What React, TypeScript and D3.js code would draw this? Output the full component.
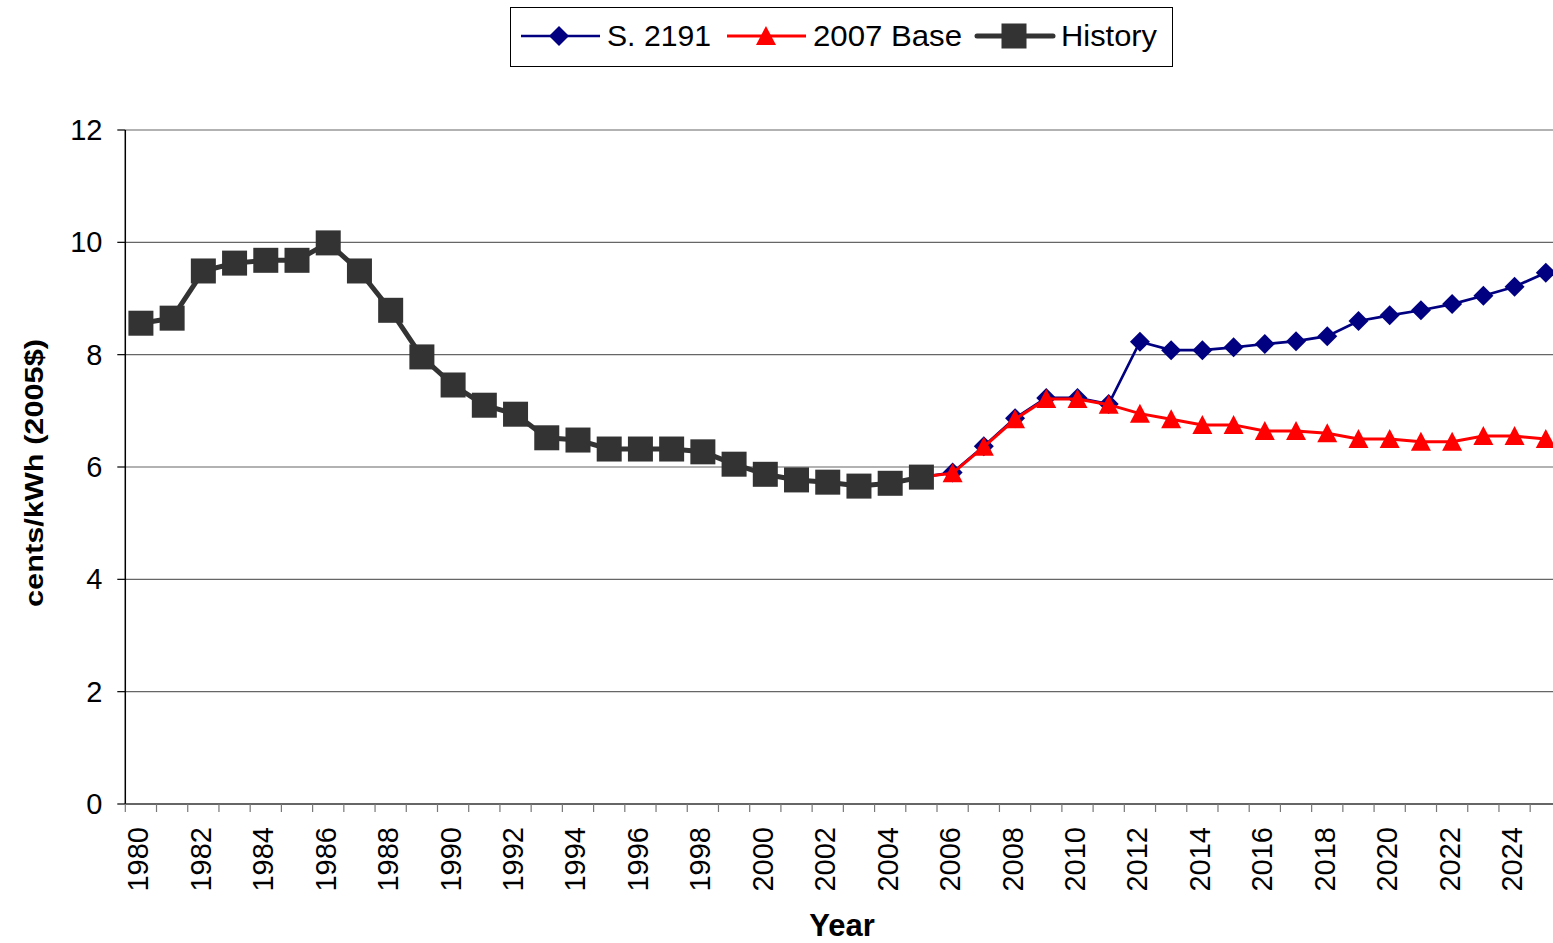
import React from 'react'
import * as d3 from 'd3'

// categories (one band per year)
const years = [
  1980, 1981, 1982, 1983, 1984, 1985, 1986, 1987, 1988, 1989,
  1990, 1991, 1992, 1993, 1994, 1995, 1996, 1997, 1998, 1999,
  2000, 2001, 2002, 2003, 2004, 2005, 2006, 2007, 2008, 2009,
  2010, 2011, 2012, 2013, 2014, 2015, 2016, 2017, 2018, 2019,
  2020, 2021, 2022, 2023, 2024, 2025,
]

const historyYears = years.slice(0, 26) // 1980-2005
const historyValues = [
  8.56, 8.65, 9.49, 9.63, 9.68, 9.68, 9.99, 9.49, 8.79, 7.96,
  7.46, 7.10, 6.94, 6.52, 6.48, 6.32, 6.32, 6.32, 6.27, 6.05,
  5.87, 5.77, 5.73, 5.66, 5.71, 5.82,
]

const projYears = years.slice(25) // 2005-2025
const baseValues = [
  5.82, 5.89, 6.36, 6.85, 7.21, 7.21, 7.11, 6.95, 6.85, 6.75,
  6.75, 6.64, 6.64, 6.60, 6.50, 6.50, 6.45, 6.45, 6.55, 6.55,
  6.50,
]
const s2191Values = [
  5.82, 5.90, 6.37, 6.87, 7.23, 7.23, 7.12, 8.23, 8.08, 8.08,
  8.13, 8.19, 8.24, 8.33, 8.60, 8.70, 8.79, 8.90, 9.05, 9.21,
  9.46,
]

const yTicks = [0, 2, 4, 6, 8, 10, 12]

const FONT = "'Liberation Sans', Arial, Helvetica, sans-serif"
const W = 1553
const H = 943

const DIAMOND = 'M0,-10L10,0L0,10L-10,0Z'
const TRIANGLE = 'M0,-10L10,9L-10,9Z'

export default function App() {
  const x = d3.scaleBand<number>().domain(years).range([125.3, 1561.4])
  const cx = (yr: number) => (x(yr) as number) + x.bandwidth() / 2
  const y = d3.scaleLinear().domain([0, 12]).range([804, 130])

  const line = d3.line<[number, number]>()
    .x(d => cx(d[0]))
    .y(d => y(d[1]))

  const hist: [number, number][] = historyYears.map((yr, i) => [yr, historyValues[i]])
  const base: [number, number][] = projYears.map((yr, i) => [yr, baseValues[i]])
  const s2191: [number, number][] = projYears.map((yr, i) => [yr, s2191Values[i]])

  const left = x.range()[0]
  const right = x.range()[1]
  const boundaries = years.map(yr => x(yr) as number).concat([right])

  return (
    <svg
      width={W}
      height={H}
      style={{ position: 'absolute', left: 0, top: 0, background: '#fff' }}
      fontFamily={FONT}
    >
      {/* gridlines */}
      {yTicks.filter(t => t > 0).map(t => (
        <line key={t} x1={left} x2={right} y1={y(t)} y2={y(t)} stroke="#666" strokeWidth={1.2} />
      ))}

      {/* y axis */}
      <line x1={left} x2={left} y1={y(12)} y2={y(0)} stroke="#000" strokeWidth={1.5} />
      {yTicks.map(t => (
        <g key={t}>
          <line x1={left - 8} x2={left} y1={y(t)} y2={y(t)} stroke="#000" strokeWidth={1.2} />
          <text x={102.5} y={y(t) + 10} textAnchor="end" fontSize={29} fill="#000">{t}</text>
        </g>
      ))}

      {/* x axis */}
      <line x1={left} x2={right} y1={y(0)} y2={y(0)} stroke="#333" strokeWidth={1.5} />
      {boundaries.map((b, i) => (
        <line key={i} x1={b} x2={b} y1={y(0)} y2={y(0) + 8} stroke="#777" strokeWidth={1.2} />
      ))}
      {years.filter((_, i) => i % 2 === 0).map(yr => (
        <text
          key={yr}
          transform={`translate(${cx(yr) + 7.5},827) rotate(-90)`}
          textAnchor="end"
          fontSize={29}
          fill="#000"
        >
          {yr}
        </text>
      ))}

      {/* axis titles */}
      <text
        transform="translate(43,473) rotate(-90)"
        textAnchor="middle"
        fontSize={25}
        fontWeight="bold"
        textLength={268}
        lengthAdjust="spacingAndGlyphs"
      >
        cents/kWh (2005$)
      </text>
      <text x={842} y={936} textAnchor="middle" fontSize={31} fontWeight="bold">Year</text>

      {/* S. 2191 */}
      <path d={line(s2191) as string} fill="none" stroke="#000080" strokeWidth={2.7} />
      {s2191.map(d => (
        <path key={d[0]} d={DIAMOND} transform={`translate(${cx(d[0])},${y(d[1])})`} fill="#000080" />
      ))}

      {/* 2007 Base */}
      <path d={line(base) as string} fill="none" stroke="#ff0000" strokeWidth={3} />
      {base.map(d => (
        <path key={d[0]} d={TRIANGLE} transform={`translate(${cx(d[0])},${y(d[1])})`} fill="#ff0000" />
      ))}

      {/* History */}
      <path d={line(hist) as string} fill="none" stroke="#333333" strokeWidth={5} strokeLinejoin="round" />
      {hist.map(d => (
        <rect key={d[0]} x={cx(d[0]) - 12.5} y={y(d[1]) - 12.5} width={25} height={25} fill="#333333" />
      ))}

      {/* legend */}
      <rect x={510.5} y={7.5} width={662} height={59} fill="#fff" stroke="#000" strokeWidth={1} />
      <g>
        <line x1={521} x2={600} y1={36} y2={36} stroke="#000080" strokeWidth={2.7} />
        <path d={DIAMOND} transform="translate(559,36)" fill="#000080" />
        <text x={607} y={46} fontSize={30} textLength={104} lengthAdjust="spacingAndGlyphs">S. 2191</text>

        <line x1={727} x2={806} y1={36} y2={36} stroke="#ff0000" strokeWidth={3} />
        <path d={TRIANGLE} transform="translate(766,36)" fill="#ff0000" />
        <text x={813} y={46} fontSize={30} textLength={149} lengthAdjust="spacingAndGlyphs">2007 Base</text>

        <line x1={977} x2={1053} y1={36} y2={36} stroke="#333333" strokeWidth={5} strokeLinecap="round" />
        <rect x={1001.5} y={23.5} width={25} height={25} fill="#333333" />
        <text x={1061} y={46} fontSize={30} textLength={96} lengthAdjust="spacingAndGlyphs">History</text>
      </g>
    </svg>
  )
}
